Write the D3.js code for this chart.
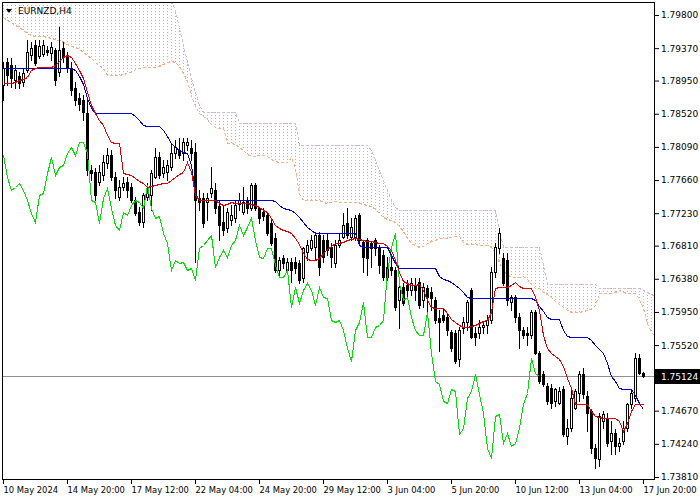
<!DOCTYPE html>
<html><head><meta charset="utf-8">
<script src="https://cdn.jsdelivr.net/npm/d3@7/dist/d3.min.js"></script>
<style>html,body{margin:0;padding:0;background:#fff;}svg{display:block}</style>
</head><body><svg id="chart" width="700" height="500"></svg>
<script>
const symbolTitle = "EURNZD,H4";
const timeLabels = ["10 May 2024","14 May 20:00","17 May 12:00","22 May 04:00","24 May 20:00","29 May 12:00","3 Jun 04:00","5 Jun 20:00","10 Jun 12:00","13 Jun 04:00","17 Jun 20:00"];
const timeLabelBars = [0,16,32,48,64,80,96,112,128,144,160];
const priceTicks = [1.79800,1.79370,1.78950,1.78520,1.78090,1.77660,1.77230,1.76810,1.76380,1.75950,1.75520,1.74670,1.74240,1.73810];
const lastPrice = 1.75124;
const chikouShift = 26;

const openP = [1.78895,1.79194,1.79155,1.78960,1.79012,1.78934,1.79090,1.79285,1.79415,1.79272,
1.79298,1.79350,1.79311,1.79350,1.79064,1.79376,1.79259,1.79116,1.78856,1.78726,
1.78700,1.78531,1.77790,1.77764,1.77634,1.77725,1.77881,1.77985,1.77699,1.77439,
1.77569,1.77634,1.77569,1.77400,1.77244,1.77114,1.77439,1.77465,1.77699,1.77959,
1.77751,1.77764,1.77829,1.78011,1.78050,1.78011,1.78115,1.78076,1.78024,1.77426,
1.77426,1.77374,1.77491,1.77530,1.77322,1.77114,1.77036,1.77140,1.77166,1.77348,
1.77244,1.77400,1.77296,1.77595,1.77296,1.77244,1.77205,1.77101,1.76906,1.76490,
1.76646,1.76490,1.76594,1.76594,1.76581,1.76386,1.76724,1.76776,1.76789,1.76945,
1.76880,1.76880,1.76789,1.76581,1.76815,1.76919,1.77101,1.76919,1.76919,1.77205,
1.76854,1.76880,1.76841,1.76880,1.76789,1.76685,1.76529,1.76529,1.76490,1.76100,
1.76269,1.76295,1.76230,1.76295,1.76334,1.76100,1.76256,1.76204,1.76100,1.75866,
1.75905,1.75879,1.75684,1.75671,1.75346,1.75736,1.75814,1.76230,1.75671,1.75671,
1.75749,1.75775,1.75840,1.76464,1.76776,1.76646,1.76620,1.76074,1.76139,1.75879,
1.75710,1.75671,1.75645,1.75944,1.75424,1.75151,1.74995,1.74969,1.74800,1.74774,
1.74956,1.74345,1.74449,1.74709,1.74904,1.75151,1.74865,1.74670,1.74189,1.74046,
1.74540,1.74566,1.74280,1.74384,1.74215,1.74280,1.74449,1.74761,1.74839,1.75359,
1.75164];
const highP = [1.79194,1.79246,1.79246,1.79155,1.79064,1.79116,1.79480,1.79454,1.79480,1.79480,
1.79480,1.79402,1.79454,1.79376,1.79649,1.79454,1.79324,1.79194,1.78934,1.78791,
1.78765,1.78700,1.77855,1.77816,1.77855,1.77985,1.78076,1.78050,1.77764,1.77660,
1.77699,1.77699,1.77621,1.77439,1.77309,1.77491,1.77621,1.77790,1.78076,1.78024,
1.77920,1.77920,1.78141,1.78180,1.78206,1.78206,1.78206,1.78180,1.78141,1.77530,
1.77491,1.77491,1.77829,1.77621,1.77400,1.77335,1.77296,1.77335,1.77400,1.77491,
1.77569,1.77439,1.77621,1.77621,1.77309,1.77296,1.77231,1.77140,1.76971,1.76659,
1.76685,1.76646,1.76646,1.76659,1.76620,1.76789,1.76880,1.76945,1.76984,1.76984,
1.76945,1.76971,1.76841,1.76880,1.76971,1.77231,1.77296,1.77166,1.77205,1.77231,
1.76880,1.76906,1.76854,1.76906,1.76815,1.76750,1.76659,1.76685,1.76529,1.76360,
1.76321,1.76360,1.76386,1.76386,1.76386,1.76321,1.76295,1.76269,1.76139,1.75970,
1.75996,1.75931,1.75710,1.75710,1.75749,1.75879,1.76100,1.76256,1.75749,1.75840,
1.75814,1.75905,1.76529,1.76841,1.77036,1.76711,1.76711,1.76165,1.76165,1.75931,
1.75749,1.75749,1.75970,1.75970,1.75450,1.75190,1.75034,1.75021,1.74969,1.74982,
1.74995,1.74566,1.74930,1.74956,1.75190,1.75229,1.74930,1.74696,1.74241,1.74644,
1.74670,1.74644,1.74540,1.74436,1.74319,1.74540,1.74774,1.74956,1.75424,1.75411,
1.75177];
const lowP = [1.78700,1.78895,1.78869,1.78856,1.78856,1.78882,1.79064,1.79220,1.79155,1.79246,
1.79272,1.79285,1.79220,1.78895,1.79012,1.79194,1.79064,1.78765,1.78635,1.78570,
1.78440,1.77725,1.77660,1.77400,1.77595,1.77660,1.77816,1.77660,1.77426,1.77400,
1.77530,1.77439,1.77374,1.77205,1.77075,1.77049,1.77400,1.77270,1.77686,1.77686,
1.77699,1.77660,1.77790,1.77946,1.77946,1.77920,1.78050,1.77920,1.76594,1.77270,
1.77049,1.77140,1.77439,1.77231,1.76880,1.76945,1.76984,1.77075,1.77114,1.77270,
1.77218,1.77231,1.77270,1.77270,1.77101,1.77140,1.76945,1.76815,1.76464,1.76399,
1.76516,1.76464,1.76334,1.76451,1.76321,1.76334,1.76620,1.76750,1.76620,1.76425,
1.76594,1.76685,1.76529,1.76529,1.76789,1.76906,1.76906,1.76880,1.76880,1.76841,
1.76464,1.76425,1.76529,1.76685,1.76451,1.76360,1.76360,1.76425,1.75970,1.75736,
1.76035,1.76139,1.76165,1.76100,1.75996,1.76009,1.75931,1.75970,1.75801,1.75450,
1.75814,1.75645,1.75450,1.75294,1.75255,1.75671,1.75710,1.75606,1.75515,1.75606,
1.75671,1.75671,1.75801,1.76399,1.76711,1.76295,1.76035,1.75970,1.75814,1.75489,
1.75606,1.75515,1.75606,1.75411,1.75034,1.74995,1.74761,1.74709,1.74735,1.74761,
1.74345,1.74241,1.74410,1.74696,1.74800,1.74839,1.74410,1.74124,1.73929,1.73955,
1.74449,1.74215,1.74111,1.74111,1.74150,1.74241,1.74410,1.74709,1.74800,1.75151,
1.75112];
const closeP = [1.79116,1.79025,1.78986,1.79090,1.78921,1.79051,1.79324,1.79376,1.79181,1.79402,
1.79415,1.79324,1.79389,1.78960,1.79350,1.79259,1.79116,1.78830,1.78700,1.78648,
1.78544,1.77790,1.77751,1.77465,1.77764,1.77894,1.77985,1.77699,1.77530,1.77569,
1.77621,1.77530,1.77400,1.77231,1.77114,1.77465,1.77491,1.77751,1.77959,1.77725,
1.77829,1.77855,1.78011,1.78089,1.77985,1.78154,1.78154,1.78011,1.77400,1.77374,
1.77101,1.77426,1.77556,1.77296,1.77075,1.77010,1.77244,1.77205,1.77335,1.77400,
1.77374,1.77296,1.77595,1.77296,1.77166,1.77192,1.76971,1.76841,1.76490,1.76620,
1.76581,1.76594,1.76490,1.76516,1.76360,1.76776,1.76815,1.76880,1.76945,1.76529,
1.76659,1.76750,1.76659,1.76815,1.76880,1.77075,1.76945,1.77049,1.77166,1.76880,
1.76659,1.76646,1.76776,1.76776,1.76555,1.76399,1.76399,1.76490,1.76009,1.76269,
1.76061,1.76230,1.76321,1.76230,1.76035,1.76269,1.76139,1.76126,1.75840,1.75814,
1.75840,1.75710,1.75489,1.75320,1.75710,1.75814,1.76074,1.75619,1.75619,1.75749,
1.75775,1.75840,1.76464,1.76789,1.76971,1.76321,1.76100,1.76139,1.75879,1.75710,
1.75645,1.75645,1.75944,1.75424,1.75060,1.75021,1.74800,1.74774,1.74956,1.74930,
1.74371,1.74449,1.74839,1.74930,1.75151,1.74891,1.74644,1.74189,1.74059,1.74605,
1.74631,1.74254,1.74384,1.74215,1.74254,1.74449,1.74761,1.74904,1.75359,1.75164,
1.75124];
const tenkan = [1.78921,1.78921,1.78921,1.78934,1.78960,1.78973,1.78999,1.79090,1.79116,1.79129,
1.79129,1.79129,1.79129,1.79155,1.79207,1.79259,1.79285,1.79259,1.79181,1.79090,
1.78986,1.78804,1.78635,1.78531,1.78440,1.78375,1.78245,1.78154,1.78141,1.78141,
1.77751,1.77738,1.77725,1.77686,1.77647,1.77621,1.77569,1.77582,1.77595,1.77608,
1.77621,1.77621,1.77660,1.77699,1.77738,1.77764,1.77894,1.77764,1.77465,1.77400,
1.77400,1.77400,1.77400,1.77400,1.77361,1.77335,1.77348,1.77374,1.77361,1.77361,
1.77361,1.77361,1.77348,1.77335,1.77309,1.77270,1.77244,1.77166,1.77075,1.77036,
1.77010,1.76997,1.76971,1.76906,1.76828,1.76711,1.76633,1.76620,1.76620,1.76646,
1.76711,1.76763,1.76802,1.76841,1.76841,1.76854,1.76880,1.76893,1.76906,1.76893,
1.76880,1.76867,1.76867,1.76854,1.76841,1.76841,1.76802,1.76750,1.76620,1.76464,
1.76347,1.76321,1.76295,1.76295,1.76308,1.76230,1.76100,1.76009,1.75996,1.75996,
1.75996,1.75931,1.75853,1.75814,1.75775,1.75749,1.75749,1.75762,1.75775,1.75801,
1.75827,1.75840,1.75944,1.76256,1.76269,1.76269,1.76269,1.76295,1.76334,1.76282,
1.76256,1.76256,1.76256,1.76139,1.75970,1.75645,1.75489,1.75424,1.75385,1.75346,
1.75255,1.75099,1.74969,1.74761,1.74761,1.74761,1.74761,1.74670,1.74605,1.74592,
1.74579,1.74579,1.74579,1.74579,1.74540,1.74410,1.74514,1.74670,1.74761,1.74761,
1.74761];
const kijun = [1.79116,1.79116,1.79116,1.79116,1.79116,1.79116,1.79116,1.79116,1.79116,1.79116,
1.79116,1.79116,1.79116,1.79116,1.79116,1.79116,1.79116,1.79116,1.79090,1.79012,
1.78908,1.78726,1.78596,1.78531,1.78531,1.78531,1.78531,1.78531,1.78531,1.78531,
1.78531,1.78531,1.78531,1.78492,1.78440,1.78375,1.78362,1.78362,1.78362,1.78362,
1.78310,1.78232,1.78141,1.78089,1.78050,1.78024,1.78011,1.77855,1.77491,1.77400,
1.77400,1.77400,1.77400,1.77400,1.77400,1.77400,1.77400,1.77400,1.77400,1.77400,
1.77400,1.77400,1.77400,1.77400,1.77400,1.77400,1.77400,1.77400,1.77387,1.77335,
1.77296,1.77283,1.77270,1.77231,1.77179,1.77114,1.77049,1.77010,1.76971,1.76971,
1.76971,1.76971,1.76971,1.76971,1.76971,1.76971,1.76971,1.76971,1.76971,1.76815,
1.76789,1.76789,1.76789,1.76789,1.76789,1.76789,1.76789,1.76685,1.76581,1.76516,
1.76516,1.76516,1.76516,1.76516,1.76516,1.76516,1.76516,1.76516,1.76516,1.76412,
1.76373,1.76360,1.76334,1.76295,1.76256,1.76204,1.76139,1.76126,1.76126,1.76126,
1.76126,1.76126,1.76126,1.76126,1.76126,1.76126,1.76126,1.76126,1.76126,1.76126,
1.76126,1.76126,1.76126,1.76100,1.76022,1.75957,1.75879,1.75853,1.75853,1.75853,
1.75710,1.75632,1.75619,1.75619,1.75619,1.75619,1.75619,1.75580,1.75515,1.75476,
1.75424,1.75294,1.75125,1.75060,1.74969,1.74956,1.74956,1.74956,1.74878,1.74774,
1.74696];
const senkouA = [1.79779,1.79740,1.79714,1.79675,1.79649,1.79610,1.79571,1.79545,1.79532,1.79532,
1.79532,1.79519,1.79506,1.79493,1.79480,1.79454,1.79428,1.79402,1.79389,1.79363,
1.79324,1.79285,1.79246,1.79194,1.79155,1.79116,1.79018,1.79018,1.79018,1.79025,
1.79038,1.79045,1.79058,1.79103,1.79116,1.79123,1.79123,1.79123,1.79123,1.79136,
1.79162,1.79188,1.79201,1.79188,1.79136,1.79051,1.78947,1.78765,1.78616,1.78531,
1.78486,1.78453,1.78388,1.78343,1.78336,1.78336,1.78141,1.78135,1.78128,1.78089,
1.78044,1.77998,1.77966,1.77972,1.77979,1.77985,1.77966,1.77927,1.77901,1.77894,
1.77894,1.77894,1.77953,1.77810,1.77478,1.77400,1.77400,1.77400,1.77400,1.77400,
1.77381,1.77368,1.77374,1.77387,1.77381,1.77381,1.77381,1.77381,1.77374,1.77368,
1.77355,1.77335,1.77322,1.77283,1.77231,1.77186,1.77153,1.77140,1.77121,1.77069,
1.77004,1.76913,1.76841,1.76815,1.76796,1.76809,1.76841,1.76867,1.76887,1.76906,
1.76906,1.76913,1.76926,1.76932,1.76939,1.76854,1.76835,1.76828,1.76828,1.76822,
1.76815,1.76815,1.76796,1.76718,1.76601,1.76490,1.76432,1.76419,1.76406,1.76406,
1.76412,1.76373,1.76308,1.76263,1.76256,1.76204,1.76185,1.76146,1.76094,1.76055,
1.76016,1.75977,1.75944,1.75944,1.75951,1.75964,1.75977,1.75983,1.76035,1.76191,
1.76198,1.76198,1.76198,1.76211,1.76230,1.76204,1.76191,1.76191,1.76191,1.76120,
1.75996,1.75801,1.75684,1.75638];
const senkouB = [1.80130,1.80130,1.80130,1.80130,1.80130,1.80130,1.80130,1.80130,1.80130,1.80130,
1.80130,1.80130,1.80130,1.80130,1.80130,1.80130,1.80130,1.80130,1.80130,1.80130,
1.80130,1.80130,1.80130,1.80130,1.80130,1.80130,1.80130,1.80130,1.80130,1.80130,
1.80130,1.80130,1.80130,1.80130,1.80130,1.80130,1.80130,1.80130,1.80130,1.80130,
1.80130,1.80130,1.80000,1.79870,1.79636,1.79415,1.79194,1.78986,1.78804,1.78635,
1.78544,1.78544,1.78544,1.78544,1.78544,1.78544,1.78544,1.78544,1.78544,1.78401,
1.78401,1.78401,1.78401,1.78401,1.78401,1.78401,1.78401,1.78401,1.78401,1.78401,
1.78401,1.78401,1.78401,1.78401,1.78115,1.78115,1.78115,1.78115,1.78115,1.78115,
1.78115,1.78115,1.78115,1.78115,1.78115,1.78115,1.78115,1.78115,1.78115,1.78115,
1.78115,1.78115,1.78050,1.77920,1.77790,1.77660,1.77530,1.77400,1.77309,1.77270,
1.77270,1.77270,1.77270,1.77270,1.77270,1.77270,1.77270,1.77270,1.77270,1.77270,
1.77270,1.77270,1.77270,1.77270,1.77270,1.77270,1.77270,1.77270,1.77270,1.77270,
1.77270,1.77270,1.77270,1.77270,1.77010,1.76789,1.76789,1.76789,1.76789,1.76789,
1.76789,1.76789,1.76789,1.76789,1.76789,1.76555,1.76308,1.76308,1.76308,1.76308,
1.76308,1.76308,1.76308,1.76308,1.76308,1.76308,1.76308,1.76308,1.76308,1.76256,
1.76256,1.76256,1.76256,1.76256,1.76256,1.76256,1.76256,1.76256,1.76256,1.76256,
1.76230,1.76204,1.76178,1.76152];

const FONT = "DejaVu Sans, Verdana, sans-serif";
const svg = d3.select("#chart");
svg.append("rect").attr("width",700).attr("height",500).attr("fill","#fff");

const x = d3.scaleLinear().domain([0,160]).range([3,643]);
const y = d3.scaleLinear().domain([1.73810,1.79800]).range([477,15]);
const X = i => Math.round(x(i));
const Y = v => Math.round(y(v));

svg.append("defs").append("clipPath").attr("id","plot")
  .append("rect").attr("x",3).attr("y",3).attr("width",651).attr("height",476);
const g = svg.append("g").attr("clip-path","url(#plot)");

// Kumo (cloud) hatch
const cloudIdx = d3.range(senkouA.length);
g.append("g").attr("shape-rendering","crispEdges").selectAll("line").data(cloudIdx).join("line")
  .attr("x1",i=>X(i)+0.5).attr("x2",i=>X(i)+0.5)
  .attr("y1",i=>Math.min(Y(senkouA[i]),Y(senkouB[i])))
  .attr("y2",i=>Math.max(Y(senkouA[i]),Y(senkouB[i])))
  .attr("stroke",i=>senkouA[i]>senkouB[i] ? "#f4a460" : "#d8a8b4")
  .attr("stroke-width",1).attr("stroke-dasharray","1,2");

const lineGen = d3.line().x((d,i)=>X(i)+0.5).y(d=>Y(d)+0.5);
g.append("path").datum(senkouA).attr("d",lineGen).attr("fill","none")
  .attr("stroke","#f3b08a").attr("stroke-dasharray","3,2").attr("shape-rendering","crispEdges");
g.append("path").datum(senkouB).attr("d",lineGen).attr("fill","none")
  .attr("stroke","#d8b8d0").attr("stroke-dasharray","3,2").attr("shape-rendering","crispEdges");

// Bid line
g.append("line").attr("x1",3).attr("x2",655).attr("y1",Y(lastPrice)+0.5).attr("y2",Y(lastPrice)+0.5)
  .attr("stroke","#909090").attr("shape-rendering","crispEdges");

// Candles
const bars = d3.range(closeP.length);
const cg = g.append("g").attr("shape-rendering","crispEdges");
cg.selectAll("line.wick").data(bars).join("line").attr("class","wick")
  .attr("x1",i=>X(i)+0.5).attr("x2",i=>X(i)+0.5)
  .attr("y1",i=>Y(highP[i])).attr("y2",i=>Y(lowP[i])+1)
  .attr("stroke","#000");
cg.selectAll("rect.body").data(bars).join("rect").attr("class","body")
  .each(function(i){
    const top = Math.min(Y(openP[i]),Y(closeP[i]));
    const bot = Math.max(Y(openP[i]),Y(closeP[i]));
    const s = d3.select(this);
    if (closeP[i] > openP[i]) {
      s.attr("x",X(i)-0.5).attr("y",top+0.5).attr("width",2).attr("height",Math.max(0,bot-top))
       .attr("fill","#fff").attr("stroke","#000");
    } else {
      s.attr("x",X(i)-1).attr("y",top).attr("width",3).attr("height",Math.max(1,bot-top+1))
       .attr("fill","#000");
    }
  });

// Ichimoku lines
g.append("path").datum(closeP.slice(chikouShift)).attr("d",lineGen).attr("fill","none")
  .attr("stroke","#00e000").attr("shape-rendering","crispEdges");
g.append("path").datum(kijun).attr("d",lineGen).attr("fill","none")
  .attr("stroke","#0000c8").attr("shape-rendering","crispEdges");
g.append("path").datum(tenkan).attr("d",lineGen).attr("fill","none")
  .attr("stroke","#dd0000").attr("shape-rendering","crispEdges");

// Frame
svg.append("rect").attr("x",2.5).attr("y",2.5).attr("width",652).attr("height",477)
  .attr("fill","none").attr("stroke","#000").attr("shape-rendering","crispEdges");

// Price axis
const yAxis = d3.axisRight(y).tickValues(priceTicks).tickFormat(d3.format(".5f")).tickSize(4).tickPadding(2);
const ya = svg.append("g").attr("transform","translate(655,0)").call(yAxis);
ya.select(".domain").remove();
ya.selectAll("text").attr("font-family",FONT).attr("font-size","9px").attr("fill","#000");
ya.selectAll("line").attr("stroke","#000");

// Time axis
const xAxis = d3.axisBottom(x).tickValues(timeLabelBars).tickFormat((d,i)=>timeLabels[i]).tickSize(4).tickPadding(3);
const xa = svg.append("g").attr("transform","translate(0,480)").call(xAxis);
xa.select(".domain").remove();
xa.selectAll("text").attr("font-family",FONT).attr("font-size","8.4px").attr("fill","#000")
  .attr("text-anchor","start").attr("x",0);
xa.selectAll("line").attr("stroke","#000");

// Last price label
const ly = Y(lastPrice);
svg.append("rect").attr("x",655).attr("y",ly-7).attr("width",45).attr("height",15).attr("fill","#000");
svg.append("text").attr("x",661).attr("y",ly+0.5).attr("dy","0.35em").text(lastPrice.toFixed(5))
  .attr("font-family",FONT).attr("font-size","9px").attr("fill","#fff");

// Title
svg.append("path").attr("d","M6,9 L12,9 L9,13 Z").attr("fill","#000");
svg.append("text").attr("x",18).attr("y",14).text(symbolTitle)
  .attr("font-family",FONT).attr("font-size","9px").attr("fill","#000");
</script></body></html>
